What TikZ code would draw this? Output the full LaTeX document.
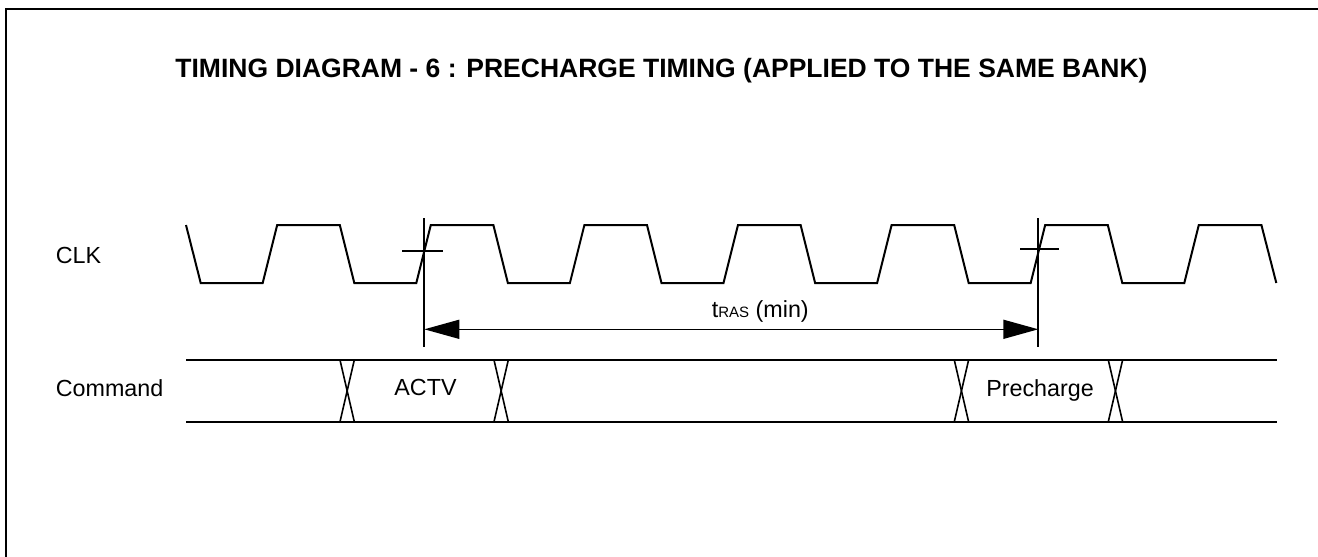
\documentclass[tikz,border=0pt]{standalone}
\usepackage{fontspec}
\setmainfont{Liberation Sans}
\usetikzlibrary{arrows.meta}
\begin{document}
\begin{tikzpicture}[x=1pt,y=-1pt,
  sig/.style={line width=2pt,line join=miter},
  thin/.style={line width=1.6pt},
  lbl/.style={inner sep=0pt,font=\fontsize{23.3}{28}\selectfont},
  ttl/.style={inner sep=0pt,font=\fontsize{26.5}{32}\selectfont\bfseries},
  dim/.style={line width=1.5pt,{Triangle[length=35pt,width=19pt]}-{Triangle[length=35pt,width=19pt]}}]
\useasboundingbox (0,0) rectangle (1318,557);
% frame
\draw[line width=2.5pt] (6,570) -- (6,9) -- (1330,9);
% title
\node[ttl,anchor=base] (title) at (661.5,77) {TIMING DIAGRAM - 6 : PRECHARGE TIMING (APPLIED TO THE SAME BANK)};
% labels
\node[lbl,anchor=base west] (clk) at (55.7,263.3) {CLK};
\node[lbl,anchor=base west] (cmd) at (55.7,396.7) {Command};
% clock
\draw[sig] (186,225) foreach \k in {0,...,6}{
  -- ({200.7+153.6*\k},283) -- ({262.7+153.6*\k},283)
  -- ({277.2+153.6*\k},225) -- ({339.8+153.6*\k},225)} -- (1276.3,283);
% reference marks
\coordinate (m1t) at (424.3,218);
\coordinate (m1b) at (424.3,347);
\coordinate (m2t) at (1038.3,218);
\coordinate (m2b) at (1038.3,347);
\draw[sig] (m1t) -- (m1b);
\draw[sig] (m2t) -- (m2b);
\coordinate (k1l) at (402,250.7);
\coordinate (k1r) at (442.7,250.7);
\coordinate (k2l) at (1020,249.3);
\coordinate (k2r) at (1059,249.3);
\draw[sig] (k1l) -- (k1r);
\draw[sig] (k2l) -- (k2r);
% dimension arrow
\coordinate (a1) at (424.3,329.3);
\coordinate (a2) at (1038.3,329.3);
\draw[dim] (a1) -- (a2);
\node[lbl,anchor=base west] (tras) at (711.7,317.3) {t{\fontsize{15}{18}\selectfont RAS} (min)};
% command bus
\coordinate (bt0) at (186,360);
\coordinate (bt1) at (1277,360);
\coordinate (bb0) at (186,421.7);
\coordinate (bb1) at (1277,421.7);
\draw[sig] (bt0) -- (bt1);
\draw[sig] (bb0) -- (bb1);
\foreach \x in {340,494,954.3,1108.3}{
  \draw[thin] (\x,360) -- ({\x+14.3},421.7);
  \draw[thin] ({\x+14.3},360) -- (\x,421.7);
}
\node[lbl,anchor=base] (actv) at (425.5,395) {ACTV};
\node[lbl,anchor=base] (pre) at (1040,396.7) {Precharge};
\end{tikzpicture}
\end{document}
